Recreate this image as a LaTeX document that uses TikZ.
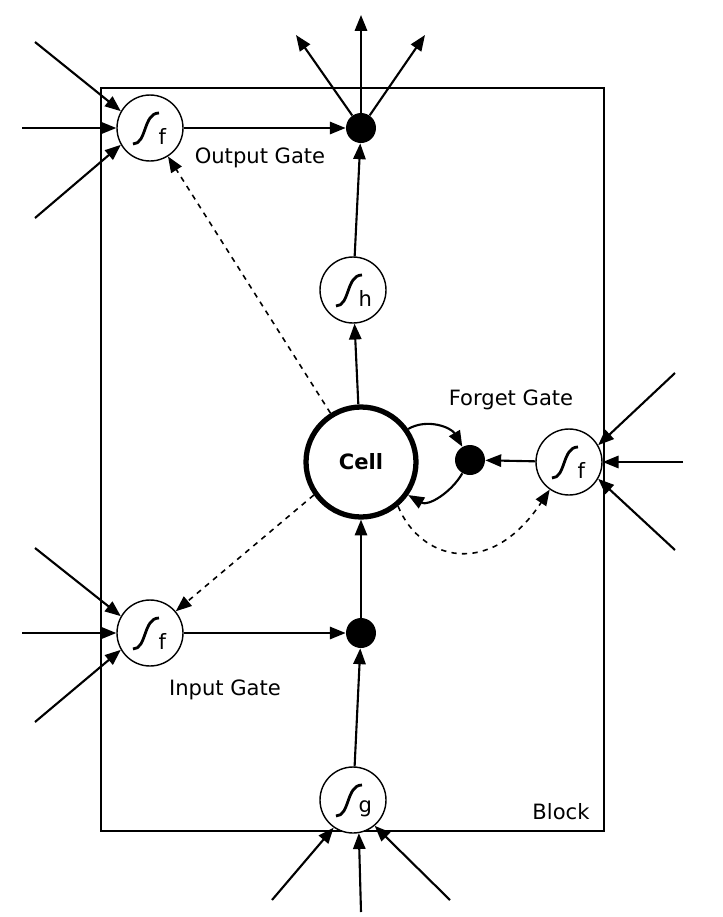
\documentclass[tikz,border=0pt]{standalone}
\usepackage{fontspec}
\setmainfont{DejaVu Sans}
\usetikzlibrary{arrows.meta}
\tikzset{
  tip/.style={-{Triangle[length=9pt,width=7pt]}},
  wire/.style={line width=1.2pt, tip},
  gate/.style={circle, draw, line width=0.8pt, fill=white, minimum size=1.32cm, inner sep=0pt,
    path picture={\begin{scope}[shift={(path picture bounding box.center)}]
      \draw[line width=1.6pt] (-17,16) .. controls (-3,16) and (-7,-15) .. (9,-15);
    \end{scope}}},
  sub/.style={label={[xshift=7pt,yshift=-5pt,font=\large]center:#1}},
  dot/.style={circle, fill=black, minimum size=0.6cm, inner sep=0pt}
}
\begin{document}
\begin{tikzpicture}[x=0.02cm, y=-0.02cm]
\useasboundingbox (0,0) rectangle (723,917);
\draw[line width=1.2pt] (101,88) rectangle (604,831);
\node (blk) at (561,812) {\large Block};
% units
\node[gate, sub=f] (og) at (150,128) {};
\node[gate, sub=f] (ig) at (150,633) {};
\node[gate, sub=f] (fg) at (569,462) {};
\node[gate, sub=h] (hg) at (353,290) {};
\node[gate, sub=g] (gg) at (353,800) {};
\node[circle, draw, line width=3pt, minimum size=2.2cm] (cell) at (361,462) {\large\bfseries Cell};
\node[dot] (od) at (361,128) {};
\node[dot] (id) at (361,633) {};
\node[dot] (fd) at (470,460) {};
\node (ol) at (260,158) {\large Output Gate};
\node (fl) at (511,400) {\large Forget Gate};
\node (il) at (225,690) {\large Input Gate};
% solid connections
\draw[wire] (og) -- (od);
\draw[wire] (ig) -- (id);
\draw[wire] (fg) -- (fd);
\draw[wire] (hg) -- (od);
\draw[wire] (cell) -- (hg);
\draw[wire] (gg) -- (id);
\draw[wire] (id) -- (cell);
\draw[wire] (cell.35) to[out=30, in=120] (fd);
\draw[wire] (fd) to[out=-120, in=-30] (cell.-35);
% peepholes
\draw[line width=0.9pt, dashed, tip] (cell.122) -- (og);
\draw[line width=0.9pt, dashed, tip] (cell.-145) -- (ig);
\draw[line width=0.9pt, dashed, tip] (cell.-50) .. controls (420,560) and (490,580) .. (fg.-125);
% outputs
\coordinate (o1) at (296,35);
\coordinate (o2) at (361,15);
\coordinate (o3) at (425,35);
\foreach \c in {o1,o2,o3} \draw[wire] (od) -- (\c);
% inputs
\coordinate (a1) at (35,42); \coordinate (a2) at (22,128); \coordinate (a3) at (35,218);
\coordinate (b1) at (35,548); \coordinate (b2) at (22,633); \coordinate (b3) at (35,722);
\coordinate (c1) at (675,373); \coordinate (c2) at (683,462); \coordinate (c3) at (675,550);
\coordinate (d1) at (272,900); \coordinate (d2) at (361,912); \coordinate (d3) at (450,900);
\draw[wire] (a1) -- (og.150); \draw[wire] (a2) -- (og); \draw[wire] (a3) -- (og.-150);
\draw[wire] (b1) -- (ig.150); \draw[wire] (b2) -- (ig); \draw[wire] (b3) -- (ig.-150);
\draw[wire] (c1) -- (fg.30); \draw[wire] (c2) -- (fg); \draw[wire] (c3) -- (fg.-30);
\draw[wire] (d1) -- (gg.-125); \draw[wire] (d2) -- (gg.-80); \draw[wire] (d3) -- (gg.-50);
\end{tikzpicture}
\end{document}
